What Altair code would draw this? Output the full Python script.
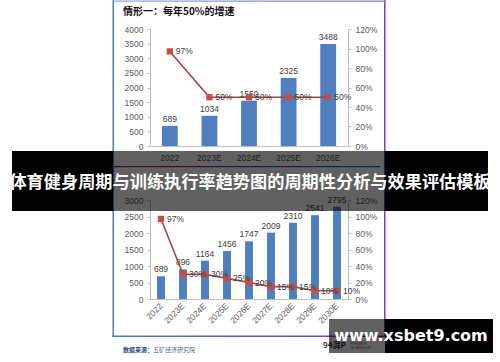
import altair as alt
import pandas as pd

# ---------------- data ----------------
top_years = ["2022", "2023E", "2024E", "2025E", "2026E"]
top_values = [689, 1034, 1550, 2325, 3488]
top_growth = [0.97, 0.50, 0.50, 0.50, 0.50]
top_growth_labels = ["97%", "50%", "50%", "50%", "50%"]

bot_years = ["2022", "2023E", "2024E", "2025E", "2026E", "2027E", "2028E", "2029E", "2030E"]
bot_values = [689, 896, 1164, 1456, 1747, 2009, 2310, 2541, 2795]
bot_growth = [0.97, 0.30, 0.30, 0.25, 0.20, 0.15, 0.15, 0.10, 0.10]
bot_growth_labels = ["97%", "30%", "30%", "25%", "20%", "15%", "15%", "10%", "10%"]

top_left_ticks = [0, 500, 1000, 1500, 2000, 2500, 3000, 3500, 4000]
bot_left_ticks = [0, 500, 1000, 1500, 2000, 2500, 3000]
pct_ticks = [0, 0.2, 0.4, 0.6, 0.8, 1.0, 1.2]

top_title = "情形一：每年50%的增速"
banner_title = "体育健身周期与训练执行率趋势图的周期性分析与效果评估模板"
source_bold = "数据来源："
source_text = "五矿经济研究院"
watermark = "www.xsbet9.com"

# ---------------- styles ----------------
BAR = "#4F7FBE"
LINE = "#A4443F"
MARK = "#C0504D"
LAB = "#404040"
AX = "#595959"
DOM = "#BFBFBF"
NUMFONT = "Liberation Sans"
CJK = "Noto Sans CJK SC"

df_top = pd.DataFrame({"year": top_years, "value": top_values,
                       "growth": top_growth, "glabel": top_growth_labels})
df_bot = pd.DataFrame({"year": bot_years, "value": bot_values,
                       "growth": bot_growth, "glabel": bot_growth_labels})
dummy = pd.DataFrame({"a": [0]})


def yaxis(orient, offset, values, fmt):
    return alt.Axis(orient=orient, offset=offset, values=values, title=None, grid=False,
                    domainColor=DOM, tickColor=DOM, tickSize=3, labelPadding=4,
                    labelFont=NUMFONT, labelFontSize=8.5, labelColor=AX,
                    labelOverlap=False, format=fmt)


def make_panel(df, years, x_range, pin, x_offset, label_angle, y_range, y_dom,
               left_ticks, left_off, right_off, x_label_pad):
    xkw = dict(orient="bottom", offset=x_offset, title=None, ticks=False, domainColor=DOM,
               labelFont=NUMFONT, labelFontSize=8.5, labelColor=AX, labelOverlap=False,
               labelPadding=x_label_pad, labelAngle=label_angle)
    if label_angle != 0:
        xkw["labelAlign"] = "right"
        xkw["labelBaseline"] = "middle"
    x = alt.X("year:N", sort=years,
              scale=alt.Scale(range=x_range, paddingInner=pin, paddingOuter=pin / 2),
              axis=alt.Axis(**xkw))
    yl = alt.Y("value:Q", scale=alt.Scale(domain=y_dom, range=y_range, nice=False, zero=True),
               axis=yaxis("left", left_off, left_ticks, "d"))
    yr = alt.Y("growth:Q", scale=alt.Scale(domain=[0, 1.2], range=y_range, nice=False, zero=True),
               axis=yaxis("right", right_off, pct_ticks, ".0%"))
    base_l = alt.Chart(df).encode(x=x, y=yl)
    bars = base_l.mark_bar(color=BAR)
    blabels = base_l.mark_text(dy=-7, baseline="middle", font=NUMFONT, fontSize=8.5,
                               color=LAB).encode(text=alt.Text("value:Q", format="d"))
    base_r = alt.Chart(df).encode(x=x, y=yr)
    line = base_r.mark_line(color=LINE, strokeWidth=1.6)
    pts = base_r.mark_point(shape="square", filled=True, size=40, color=MARK, opacity=1)
    plabels = base_r.mark_text(align="left", dx=6, baseline="middle", font=NUMFONT,
                               fontSize=8.5, color=LAB).encode(text="glabel:N")
    left = alt.layer(bars, blabels)
    right = alt.layer(line, pts, plabels)
    return alt.layer(left, right).resolve_scale(y="independent")


top = make_panel(df_top, top_years, [150, 348], 0.6, -216, 0, [146, 29], [0, 4000],
                 top_left_ticks, -150, -152, 7)
bot = make_panel(df_bot, bot_years, [150, 348], 0.64, -63, 315, [299, 200], [0, 3000],
                 bot_left_ticks, -150, -152, 5)


def rect(x, x2, y, y2, **kw):
    return alt.Chart(dummy).mark_rect(**kw).encode(
        x=alt.value(x), x2=alt.value(x2), y=alt.value(y), y2=alt.value(y2))


def text(t, x, y, **kw):
    return alt.Chart(dummy).mark_text(text=t, **kw).encode(x=alt.value(x), y=alt.value(y))


def hgrad(c1, c2):
    return alt.LinearGradient(gradient="linear", x1=0, x2=1, y1=0, y2=0,
                              stops=[alt.GradientStop(color=c1, offset=0),
                                     alt.GradientStop(color=c2, offset=1)])


# frame of the pictured image
frame = [
    rect(112.5, 114, 0, 337, color="#4A7EBB"),
    rect(384, 385.5, 0, 337, color="#7A3FA8"),
    rect(112.5, 385.5, 0.5, 1.8, color=hgrad("#8FA8DC", "#8C7CC8")),
    rect(112.5, 385.5, 335.5, 337, color=hgrad("#4A7EBB", "#7A3FA8")),
    rect(113, 380, 166, 167.2, color=hgrad("#8B2D5E", "#2C7A96")),
]

title_top = text(top_title, 123, 12, align="left", baseline="middle", font=CJK,
                 fontWeight="bold", fontSize=10, color="#111111")

footer = [
    text(source_bold, 123, 350, align="left", baseline="middle", font=CJK,
         fontWeight="bold", fontSize=6, color="#1F4E79"),
    text(source_text, 153, 350, align="left", baseline="middle", font=CJK,
         fontSize=6, color="#4F6F8F"),
    text("94湃P", 323, 346, align="left", baseline="middle", font=CJK,
         fontWeight="bold", fontSize=8, color="#333333"),
    text("RESEARCH", 350, 343.5, align="left", baseline="middle", font=NUMFONT,
         fontSize=3, color="#555555"),
    text("TECHNOLOGY", 350, 347.5, align="left", baseline="middle", font=NUMFONT,
         fontSize=3, color="#555555"),
]

banner = [
    rect(12, 113, 151, 211, color="#000000"),
    rect(385, 488, 151, 211, color="#000000"),
    rect(113, 385, 151, 211, color="#000000", opacity=0.62),
    text(banner_title, 250, 183, align="center", baseline="middle", font=CJK,
         fontWeight="bold", fontSize=17.2, color="#FFFFFF"),
]

wm = [
    rect(385, 493, 319, 353, color="#000000"),
    rect(329, 385, 319, 353, color="#000000", opacity=0.62),
    text(watermark, 411, 336, align="center", baseline="middle", font="DejaVu Sans",
         fontWeight="bold", fontSize=16, color="#FFFFFF"),
]

chart = alt.layer(
    *frame, title_top, top, bot, *footer, *banner, *wm
).resolve_scale(x="independent", y="independent").properties(
    width=500, height=362, autosize=alt.AutoSizeParams(type="none"), padding=0,
    background="#FFFFFF"
).configure_view(stroke=None)

chart.save("out.html", embed_options={"renderer": "svg", "actions": False})
